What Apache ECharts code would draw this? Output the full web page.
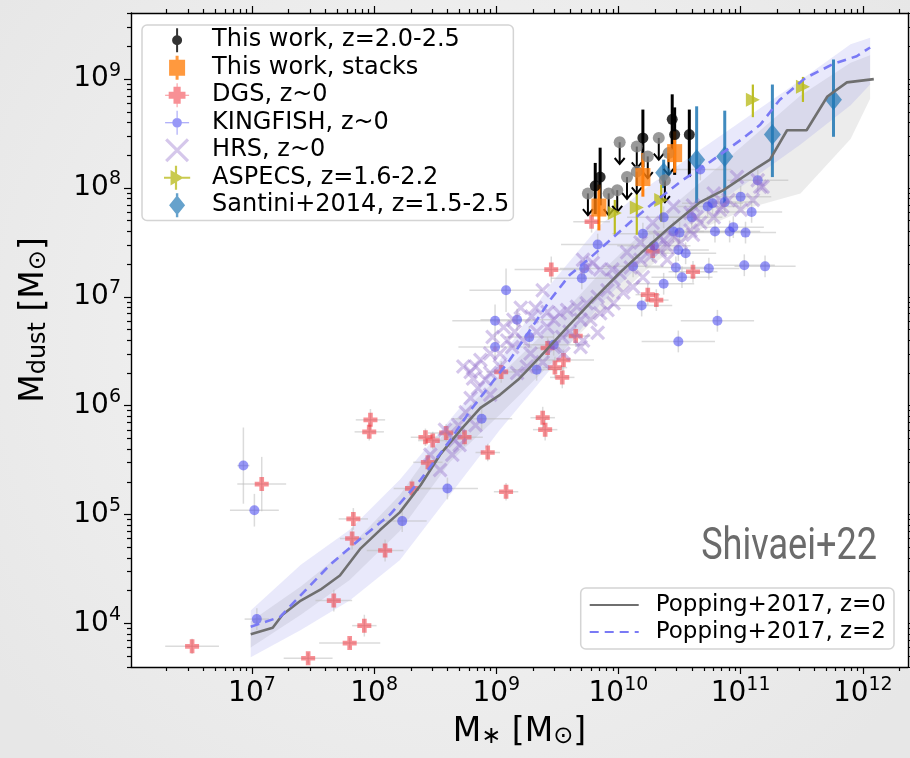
<!DOCTYPE html>
<html>
<head>
<meta charset="utf-8">
<script src="https://cdn.jsdelivr.net/npm/echarts@6/dist/echarts.min.js"></script>
<style>
  html, body { margin: 0; padding: 0; background: #efefef; }
  #chart { width: 910px; height: 758px; }
</style>
</head>
<body>
<div id="chart"></div>
<script>
// all values are log10 (M* and Mdust in Msun)
// [logM*, logMdust, x err (dex), y err (dex)]
const dgs = [
  [6.51, 3.79, 0.22, 0.07], [7.08, 5.28, 0.2, 0.25], [7.46, 3.68, 0.2, 0.05],
  [7.67, 4.21, 0.15, 0.1], [7.80, 3.82, 0.25, 0.05], [7.92, 3.98, 0.1, 0.1],
  [7.83, 4.96, 0.12, 0.1], [7.82, 4.78, 0.1, 0.1], [8.09, 4.67, 0.15, 0.1],
  [7.97, 5.87, 0.12, 0.1], [7.96, 5.76, 0.12, 0.08], [8.31, 5.24, 0.15, 0.08],
  [8.44, 5.48, 0.12, 0.08], [8.42, 5.71, 0.12, 0.08], [8.48, 5.68, 0.12, 0.08],
  [8.59, 5.75, 0.15, 0.08], [8.74, 5.71, 0.15, 0.08], [8.93, 5.57, 0.1, 0.08],
  [9.08, 5.21, 0.1, 0.08], [9.04, 6.31, 0.12, 0.1], [9.42, 6.53, 0.1, 0.1],
  [9.55, 6.42, 0.25, 0.1], [9.48, 6.35, 0.1, 0.1], [9.54, 6.26, 0.1, 0.1],
  [9.65, 6.64, 0.12, 0.1], [9.45, 7.25, 0.3, 0.12], [10.28, 7.42, 0.1, 0.1],
  [10.61, 7.23, 0.2, 0.1], [10.24, 7.02, 0.1, 0.1], [10.31, 6.97, 0.1, 0.1],
  [9.78, 7.69, 0.15, 0.1], [9.38, 5.89, 0.1, 0.1], [9.40, 5.78, 0.1, 0.1]
]
const kingfish = [
  [6.93, 5.45, 0.05, 0.35], [7.02, 5.04, 0.2, 0.15], [7.04, 4.04, 0.1, 0.1],
  [8.23, 4.94, 0.2, 0.1], [8.60, 5.24, 0.25, 0.1], [8.88, 5.88, 0.25, 0.1],
  [9.08, 7.06, 0.3, 0.2], [8.99, 6.78, 0.35, 0.15], [9.17, 6.79, 0.3, 0.1],
  [8.99, 6.54, 0.3, 0.1], [9.27, 6.63, 0.2, 0.1], [9.47, 6.56, 0.25, 0.1],
  [9.33, 6.33, 0.2, 0.1], [9.70, 7.17, 0.25, 0.1], [9.72, 7.26, 0.2, 0.1],
  [9.83, 7.48, 0.3, 0.1], [10.20, 7.58, 0.25, 0.1], [10.37, 7.73, 0.3, 0.1],
  [10.45, 7.60, 0.25, 0.1], [10.50, 7.59, 0.25, 0.1], [10.29, 7.47, 0.3, 0.1],
  [10.49, 7.43, 0.25, 0.1], [10.55, 7.40, 0.25, 0.1], [10.12, 7.28, 0.25, 0.1],
  [10.47, 7.27, 0.25, 0.1], [10.52, 7.18, 0.25, 0.1], [10.37, 7.12, 0.25, 0.1],
  [10.19, 6.92, 0.25, 0.1], [10.74, 7.26, 0.25, 0.1], [11.03, 7.29, 0.25, 0.1],
  [11.20, 7.28, 0.25, 0.1], [10.81, 6.78, 0.3, 0.1], [10.49, 6.59, 0.3, 0.1],
  [10.60, 7.73, 0.25, 0.1], [10.79, 7.60, 0.25, 0.1], [10.91, 7.60, 0.25, 0.1],
  [10.94, 7.64, 0.25, 0.1], [11.04, 7.59, 0.25, 0.1], [10.73, 7.83, 0.25, 0.1],
  [10.77, 7.86, 0.25, 0.1], [10.87, 7.87, 0.25, 0.1], [11.00, 7.92, 0.25, 0.1],
  [11.09, 7.78, 0.25, 0.1], [11.14, 8.07, 0.25, 0.1], [10.67, 8.17, 0.25, 0.1]
]
const hrs = [
  [8.79, 6.31], [8.83, 6.36], [9.03, 6.48], [9.13, 6.54], [9.22, 6.60], [9.33, 6.68],
  [9.15, 6.68], [9.28, 6.48], [9.42, 6.72], [9.47, 6.79], [9.52, 6.85], [9.58, 6.88],
  [9.66, 6.91], [9.74, 6.94], [9.69, 6.79], [9.77, 6.79], [9.85, 6.85], [9.83, 6.67],
  [9.71, 6.60], [9.60, 6.68], [9.54, 6.63], [9.47, 6.54], [9.69, 6.54], [9.55, 6.48],
  [9.38, 6.40], [9.25, 6.36], [9.17, 6.30], [9.83, 7.00], [9.91, 7.06], [9.96, 7.16],
  [10.01, 7.22], [10.10, 7.27], [10.18, 7.34], [10.20, 7.18], [10.12, 7.09], [10.04, 7.04],
  [9.96, 6.94], [9.91, 6.88], [9.85, 7.25], [9.74, 7.27], [9.79, 7.31], [10.26, 7.37],
  [10.34, 7.43], [10.40, 7.34], [10.37, 7.52], [10.45, 7.55], [10.51, 7.50], [10.61, 7.57],
  [10.67, 7.68], [10.59, 7.77], [10.78, 7.73], [10.83, 7.80], [10.90, 7.89], [11.00, 7.80],
  [11.10, 7.89], [11.18, 8.01], [11.14, 8.07], [10.45, 7.83], [10.28, 7.68], [10.18, 7.50],
  [10.07, 7.41], [9.38, 7.06], [9.20, 6.90], [9.32, 6.90], [9.42, 6.86], [9.29, 6.82],
  [9.14, 6.79], [9.06, 6.72], [8.97, 6.63], [9.09, 6.60], [8.95, 6.48], [8.87, 6.42],
  [9.03, 6.36], [8.95, 6.30], [8.73, 6.36], [8.81, 6.25], [10.97, 8.10], [11.16, 8.01],
  [10.78, 7.95], [10.85, 7.83], [10.61, 7.84], [10.64, 7.73], [10.59, 7.61], [10.40, 7.46],
  [10.34, 7.55], [9.71, 7.34], [9.95, 7.25], [8.46, 5.55], [8.58, 5.78], [8.66, 5.68],
  [8.75, 5.94], [8.79, 6.07], [8.85, 6.16], [8.54, 5.41], [8.64, 5.55], [8.70, 5.64],
  [8.91, 6.24], [8.95, 6.10], [8.83, 5.82], [8.69, 5.82]
]
// [logM*, logMdust, low end, high end]
const aspecs = [
  [9.97, 7.77, 7.57, 7.89], [10.15, 7.82, 7.57, 7.95], [10.35, 7.89, 7.69, 8.03],
  [11.10, 8.81, 8.65, 8.95], [11.51, 8.93, 8.79, 9.02]
]
const santini = [
  [10.37, 8.14, 8.00, 8.26], [10.64, 8.26, 7.86, 8.75], [10.87, 8.29, 7.86, 8.71],
  [11.26, 8.49, 8.10, 8.95], [11.76, 8.81, 8.47, 9.18]
]
const thisWork = [
  [9.81, 8.02, 7.76, 8.23], [9.85, 8.10, 7.84, 8.37], [10.20, 8.46, 8.19, 8.72],
  [10.44, 8.63, 8.35, 8.86], [10.46, 8.49, 8.12, 8.74], [10.58, 8.49, 8.10, 8.72]
]
const thisWorkLimits = [
  [9.75, 7.95], [9.92, 7.95], [9.99, 7.98], [10.01, 8.42], [10.07, 8.10], [10.15, 8.38],
  [10.15, 8.15], [10.24, 8.29], [10.33, 8.46], [10.38, 8.07], [10.41, 8.32]
]
const stacks = [
  [9.84, 7.82, 7.61, 8.03], [10.20, 8.10, 7.92, 8.32], [10.46, 8.32, 8.14, 8.52]
]
const popping0 = [
  [6.99, 3.90], [7.17, 3.96], [7.25, 4.08], [7.40, 4.21], [7.56, 4.31], [7.72, 4.44],
  [7.89, 4.69], [8.05, 4.86], [8.21, 5.02], [8.38, 5.27], [8.54, 5.55], [8.71, 5.78],
  [8.87, 5.98], [9.03, 6.10], [9.18, 6.24], [9.36, 6.45], [9.58, 6.72], [9.79, 6.97],
  [10.01, 7.22], [10.24, 7.46], [10.42, 7.64], [10.67, 7.87], [10.86, 7.98], [11.14, 8.19],
  [11.24, 8.26], [11.38, 8.53], [11.54, 8.53], [11.71, 8.84], [11.87, 8.97], [12.09, 9.00]
]
const popping2 = [
  [6.99, 3.97], [7.23, 4.06], [7.40, 4.26], [7.64, 4.54], [7.89, 4.78], [8.13, 5.00],
  [8.38, 5.32], [8.62, 5.68], [8.79, 5.96], [8.95, 6.19], [9.11, 6.42], [9.28, 6.70],
  [9.44, 6.97], [9.60, 7.20], [9.77, 7.36], [9.93, 7.52], [10.10, 7.69], [10.26, 7.84],
  [10.51, 8.06], [10.75, 8.24], [11.00, 8.44], [11.16, 8.58], [11.32, 8.81], [11.53, 9.01],
  [11.76, 9.14], [11.95, 9.21], [12.06, 9.29]
]
const bandX = [6.99, 7.40, 7.80, 8.21, 8.62, 9.03, 9.44, 9.85, 10.26, 10.67, 11.08, 11.49, 11.90, 12.06]
const band0Lo = [3.78, 4.08, 4.40, 4.85, 5.48, 5.92, 6.38, 6.85, 7.28, 7.62, 7.82, 7.95, 8.45, 8.82]
const band0Hi = [4.02, 4.34, 4.70, 5.18, 5.82, 6.28, 6.72, 7.22, 7.66, 8.05, 8.45, 8.85, 9.15, 9.22]
const band2Lo = [3.69, 3.94, 4.21, 4.58, 5.18, 5.78, 6.33, 6.93, 7.39, 7.75, 8.07, 8.40, 8.76, 8.95]
const band2Hi = [4.12, 4.54, 4.86, 5.32, 5.87, 6.42, 7.11, 7.66, 8.03, 8.35, 8.67, 8.99, 9.32, 9.38]

const xRange = [6.01, 12.37]
const yRange = [3.6, 9.607]
const xMajor = [7, 8, 9, 10, 11, 12]
const yMajor = [4, 5, 6, 7, 8, 9]

const minorTicks = (range) => {
  const out = []
  for (let n = Math.floor(range[0]); n <= Math.ceil(range[1]); n++) {
    for (let k = 2; k <= 9; k++) {
      const v = n + Math.log10(k)
      if (v > range[0] && v < range[1]) out.push(v)
    }
  }
  return out
}

const FONT = 'DejaVu Sans'
const limArrow = 0.2

const chart = echarts.init(document.getElementById('chart'))

const frame = { show: true, lineStyle: { color: '#000', width: 1.4 } }
const tickLabelRich = {
  b: { fontFamily: FONT, fontSize: 28, color: '#000', lineHeight: 36 },
  s: { fontFamily: FONT, fontSize: 19, color: '#000', lineHeight: 19, verticalAlign: 'top' }
}
const expLabel = (v) => '{b|10}{s|' + Math.round(v) + '}'

const makeAxis = (pos, range, values, len, opts) => Object.assign({
  type: 'value', position: pos, min: range[0], max: range[1],
  axisLine: frame,
  axisTick: { show: true, inside: false, length: len, customValues: values, lineStyle: { color: '#000', width: 1.2 } },
  axisLabel: { show: false },
  splitLine: { show: false }
}, opts)

const errCross = (name, pts, color, width) => ({
  name, type: 'custom', silent: true, clip: true,
  data: pts,
  renderItem: (params, api) => {
    const x = api.value(0), y = api.value(1), ex = api.value(2), ey = api.value(3)
    const l = api.coord([x - ex, y]), r = api.coord([x + ex, y])
    const b = api.coord([x, y - ey]), t = api.coord([x, y + ey])
    const st = { stroke: color, lineWidth: width }
    return { type: 'group', children: [
      { type: 'line', shape: { x1: l[0], y1: l[1], x2: r[0], y2: r[1] }, style: st },
      { type: 'line', shape: { x1: b[0], y1: b[1], x2: t[0], y2: t[1] }, style: st }
    ] }
  }
})

const errVert = (name, pts, color, width) => ({
  name, type: 'custom', silent: true, clip: true,
  data: pts,
  renderItem: (params, api) => {
    const x = api.value(0)
    const b = api.coord([x, api.value(2)]), t = api.coord([x, api.value(3)])
    return { type: 'line', shape: { x1: b[0], y1: b[1], x2: t[0], y2: t[1] }, style: { stroke: color, lineWidth: width } }
  }
})

const band = (name, lo, hi, fill) => ({
  name, type: 'custom', silent: true, clip: true,
  data: [[bandX[0], lo[0]]],
  renderItem: (params, api) => {
    const pts = bandX.map((x, i) => api.coord([x, hi[i]]))
    for (let i = bandX.length - 1; i >= 0; i--) pts.push(api.coord([bandX[i], lo[i]]))
    return { type: 'polygon', shape: { points: pts }, style: { fill } }
  }
})

const scatter = (name, data, symbol, size, color) => ({
  name, type: 'scatter', silent: true, data: data.map(p => [p[0], p[1]]),
  symbol, symbolSize: size, itemStyle: { color }
})

const PLUS = 'path://M3,0H6V3H9V6H6V9H3V6H0V3H3Z'
const XMARK = 'path://M0,1.5L1.5,0L10,8.5L8.5,10Z M8.5,0L10,1.5L1.5,10L0,8.5Z'
const TRI = 'path://M0,0L10,5L0,10Z'

const colors = {
  dgs: 'rgba(242,50,60,0.68)',
  kf: 'rgba(65,65,240,0.68)',
  hrs: 'rgba(150,115,205,0.5)',
  aspecs: '#bcbd22',
  santini: 'rgba(31,119,180,0.85)',
  err: 'rgba(190,190,190,0.55)'
}

const option = {
  animation: false,
  backgroundColor: {
    type: 'radial', x: 0.5, y: 0.45, r: 0.75,
    colorStops: [{ offset: 0, color: '#f6f6f6' }, { offset: 1, color: '#e7e7e7' }]
  },
  grid: { left: 131, right: 2, top: 13, bottom: 91, show: true, backgroundColor: '#fff', borderWidth: 0 },
  xAxis: [
    makeAxis('bottom', xRange, xMajor, 7, {
      axisLabel: { show: true, customValues: xMajor, margin: 9, formatter: expLabel, rich: tickLabelRich },
      name: 'M{sub|∗} [M{sub|⊙}]', nameLocation: 'middle', nameGap: 48,
      nameTextStyle: {
        rich: {
          sub: { fontFamily: FONT, fontSize: 24, color: '#000', verticalAlign: 'bottom', lineHeight: 34 }
        },
        fontFamily: FONT, fontSize: 33, color: '#000'
      }
    }),
    makeAxis('top', xRange, xMajor, 7),
    makeAxis('bottom', xRange, minorTicks(xRange), 4, { axisLine: { show: false } }),
    makeAxis('top', xRange, minorTicks(xRange), 4, { axisLine: { show: false } })
  ],
  yAxis: [
    makeAxis('left', yRange, yMajor, 7, {
      axisLabel: { show: true, customValues: yMajor, margin: 10, formatter: expLabel, rich: tickLabelRich },
      name: 'M{sub|dust} [M{sub|⊙}]', nameLocation: 'middle', nameGap: 80, nameRotate: 90,
      nameTextStyle: {
        rich: {
          sub: { fontFamily: FONT, fontSize: 24, color: '#000', verticalAlign: 'bottom', lineHeight: 34 }
        },
        fontFamily: FONT, fontSize: 33, color: '#000', padding: [0, 0, 0, 40]
      }
    }),
    makeAxis('right', yRange, yMajor, 7),
    makeAxis('left', yRange, minorTicks(yRange), 4, { axisLine: { show: false } }),
    makeAxis('right', yRange, minorTicks(yRange), 4, { axisLine: { show: false } })
  ],
  legend: [
    {
      orient: 'vertical', left: 142, top: 25,
      backgroundColor: '#fff', borderColor: '#d4d4d4', borderWidth: 1.5, borderRadius: 5,
      padding: [2, 4, 2, 22], itemWidth: 60, itemHeight: 24, itemGap: 1,
      selectedMode: false,
      textStyle: { fontFamily: FONT, fontSize: 24, color: '#000', lineHeight: 26.5 },
      data: [
        { name: 'This work, z=2.0-2.5', icon: 'path://M4,0H6V24H4Z M0,12A5,5 0 1 1 10,12A5,5 0 1 1 0,12Z' },
        { name: 'This work, stacks', icon: 'path://M0,4H16V20H0Z M6.5,0H9.5V24H6.5Z' },
        { name: 'DGS, z~0', icon: 'path://M7,3H13V7H17V13H13V17H7V13H3V7H7Z M0,9.6H20V10.4H0Z M9.6,0H10.4V20H9.6Z' },
        { name: 'KINGFISH, z~0', icon: 'path://M6,10A4,4 0 1 1 14,10A4,4 0 1 1 6,10Z M0,9.6H20V10.4H0Z M9.6,0H10.4V20H9.6Z' },
        { name: 'HRS, z~0', icon: 'path://M0,1.5L1.5,0L16,14.5L14.5,16Z M14.5,0L16,1.5L1.5,16L0,14.5Z' },
        { name: 'ASPECS, z=1.6-2.2', icon: 'path://M6,4L18,11L6,18Z M0,10H24V12H0Z M10,0H12V22H10Z' },
        { name: 'Santini+2014, z=1.5-2.5', icon: 'path://M10,2L18,12L10,22L2,12Z M8.8,0H11.2V24H8.8Z' }
      ]
    },
    {
      orient: 'vertical', right: 16, top: 588,
      backgroundColor: '#fff', borderColor: '#d4d4d4', borderWidth: 1.5, borderRadius: 5,
      padding: [4, 8, 4, 8], itemWidth: 49, itemHeight: 20, itemGap: 1,
      selectedMode: false,
      textStyle: { fontFamily: FONT, fontSize: 23, color: '#000', lineHeight: 26, padding: [0, 0, 0, 12] },
      data: [
        { name: 'Popping+2017, z=0', itemStyle: { opacity: 0 } },
        { name: 'Popping+2017, z=2', itemStyle: { opacity: 0 } }
      ]
    }
  ],
  graphic: [{
    type: 'text', x: 877, y: 570, scaleX: 0.82, silent: true,
    style: { text: 'Shivaei+22', font: '44px Roboto, sans-serif', fill: '#6b6b6b', align: 'right', verticalAlign: 'bottom' }
  }],
  series: [
    band('band0', band0Lo, band0Hi, 'rgba(140,140,140,0.17)'),
    band('band2', band2Lo, band2Hi, 'rgba(120,120,230,0.16)'),
    errCross('dgsErr', dgs, colors.err, 1.5),
    scatter('DGS, z~0', dgs, PLUS, 14, colors.dgs),
    errCross('kfErr', kingfish, colors.err, 1.5),
    scatter('KINGFISH, z~0', kingfish, 'circle', 10, colors.kf),
    scatter('HRS, z~0', hrs, XMARK, 15, colors.hrs),
    {
      name: 'Popping+2017, z=0', type: 'line', data: popping0, symbol: 'none', silent: true,
      lineStyle: { color: '#6f6f6f', width: 2.6 }, itemStyle: { color: '#6f6f6f' }
    },
    {
      name: 'Popping+2017, z=2', type: 'line', data: popping2, symbol: 'none', silent: true,
      lineStyle: { color: '#7a7af5', width: 2.6, type: [9, 6] }, itemStyle: { color: '#7a7af5' }
    },
    errVert('aspecsErr', aspecs, colors.aspecs, 2.2),
    scatter('ASPECS, z=1.6-2.2', aspecs, TRI, 14, colors.aspecs),
    errVert('santiniErr', santini, colors.santini, 3),
    scatter('Santini+2014, z=1.5-2.5', santini, 'diamond', [17, 21], colors.santini),
    {
      name: 'limArrows', type: 'custom', silent: true, clip: true,
      data: thisWorkLimits,
      renderItem: (params, api) => {
        const x = api.value(0), y = api.value(1)
        const a = api.coord([x, y]), e = api.coord([x, y - limArrow])
        const st = { stroke: '#000', lineWidth: 2, fill: null }
        return { type: 'group', children: [
          { type: 'line', shape: { x1: a[0], y1: a[1], x2: e[0], y2: e[1] }, style: st },
          { type: 'polyline', shape: { points: [[e[0] - 5, e[1] - 6], [e[0], e[1]], [e[0] + 5, e[1] - 6]] }, style: st }
        ] }
      }
    },
    scatter('limits', thisWorkLimits, 'circle', 12, '#808080'),
    errVert('thisWorkErr', thisWork, '#000', 3),
    scatter('This work, z=2.0-2.5', thisWork, 'circle', 11, '#000'),
    errVert('stackErr', stacks, '#ff7f0e', 3),
    scatter('This work, stacks', stacks, 'rect', [15, 18], '#ff7f0e')
  ]
}

chart.setOption(option)
</script>
</body>
</html>
